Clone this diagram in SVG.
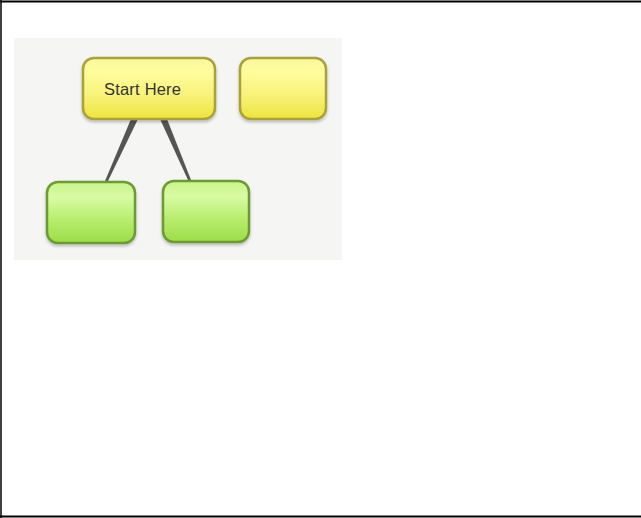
<svg xmlns="http://www.w3.org/2000/svg" width="641" height="518" viewBox="0 0 641 518">
  <defs>
    <linearGradient id="gy" x1="0" y1="0" x2="0" y2="1">
      <stop offset="0" stop-color="#fbf7a0"/>
      <stop offset="0.25" stop-color="#fffc9c"/>
      <stop offset="0.6" stop-color="#f9f27a"/>
      <stop offset="1" stop-color="#ece43e"/>
    </linearGradient>
    <linearGradient id="gg" x1="0" y1="0" x2="0" y2="1">
      <stop offset="0" stop-color="#c8f48a"/>
      <stop offset="0.25" stop-color="#d8fba4"/>
      <stop offset="0.6" stop-color="#b8ee70"/>
      <stop offset="1" stop-color="#9ddc48"/>
    </linearGradient>
    <filter id="sh" x="-20%" y="-20%" width="140%" height="150%">
      <feDropShadow dx="0" dy="2" stdDeviation="1.5" flood-color="#000" flood-opacity="0.25"/>
    </filter>
  </defs>
  <style>
    .frame { stroke: #000; fill: none; }
    .yel { fill: url(#gy); stroke: #a9a23a; stroke-width: 2.5; filter: url(#sh); }
    .grn { fill: url(#gg); stroke: #6e9a34; stroke-width: 2.5; filter: url(#sh); }
    .lbl { font-family: "Liberation Sans", Arial, sans-serif; font-size: 16.5px; fill: #333; }
    .conn { fill: #555; }
  </style>
  <rect x="0" y="0" width="641" height="518" fill="#fff"/>
  <line class="frame" x1="0" y1="1.5" x2="641" y2="1.5" stroke-width="2"/>
  <line class="frame" x1="1" y1="0" x2="1" y2="518" stroke-width="1.5"/>
  <line class="frame" x1="0" y1="516.5" x2="641" y2="516.5" stroke-width="2"/>
  <rect x="14" y="38" width="328" height="222" fill="#f5f5f4"/>
  <g id="connectors">
    <polygon class="conn" points="131,119 138,119 108,181 105,181"/>
    <polygon class="conn" points="160,119 167,119 191,180 188,180"/>
  </g>
  <g id="start">
    <rect class="yel" x="83" y="58" width="132" height="61" rx="11"/>
    <text class="lbl" x="104" y="95" textLength="77">Start Here</text>
  </g>
  <g id="yellow2">
    <rect class="yel" x="240" y="58" width="86" height="61" rx="11"/>
  </g>
  <g id="green1">
    <rect class="grn" x="47" y="182" width="88" height="61" rx="11"/>
  </g>
  <g id="green2">
    <rect class="grn" x="163" y="181" width="86" height="61" rx="11"/>
  </g>
</svg>
